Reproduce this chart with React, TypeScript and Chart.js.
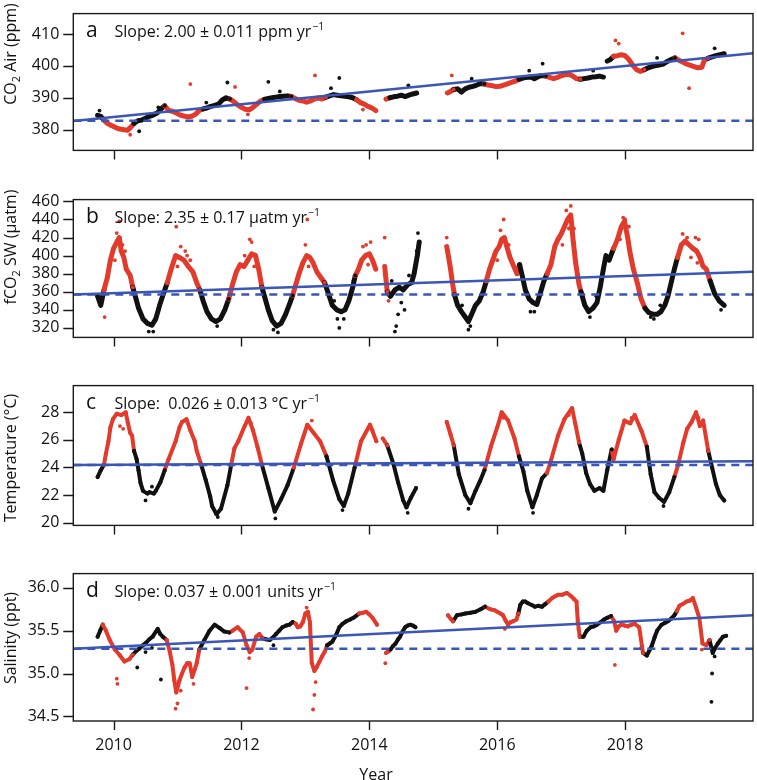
import React, { useEffect, useRef } from "react";
import { Chart, registerables } from "chart.js";
Chart.register(...registerables);

const RED = "#e33a2c";
const BLACK = "#111111";
const BLUE = "#3a56b6";
const FONT = "'Open Sans', sans-serif";

// ---------- shared axis data ----------
const xTicks = [2010, 2012, 2014, 2016, 2018];
const xMin = 2009.37;
const xMax = 2020.0;
// periods plotted in red (warm season)
const redSeasons: [number, number][] = [
  [2009.83, 2010.31], [2010.82, 2011.37], [2011.83, 2012.33], [2012.81, 2013.32],
  [2013.8, 2014.15], [2014.2, 2014.3], [2015.2, 2015.33], [2015.82, 2016.33],
  [2016.78, 2017.3], [2017.8, 2018.3], [2018.8, 2019.32],
];

// ---------- panel a: CO2 air (ppm) ----------
const co2Ticks = [380, 390, 400, 410];
const co2Air: [number, number | null][] = [
  [2009.75,384.5],[2009.8,384.2],[2009.85,383.0],[2009.9,382.0],[2009.95,381.5],[2010.0,381.0],[2010.05,380.5],[2010.1,380.2],[2010.16,380.0],[2010.22,379.8],[2010.27,380.8],[2010.32,382.0],[2010.38,382.8],[2010.44,383.0],[2010.5,383.6],[2010.56,384.2],[2010.62,384.6],[2010.68,385.2],[2010.74,386.5],[2010.8,387.5],
  [2010.86,386.0],[2010.92,385.8],[2010.98,385.2],[2011.04,384.6],[2011.1,384.3],[2011.16,384.0],[2011.22,384.2],[2011.28,384.8],[2011.34,386.0],[2011.4,386.5],[2011.46,386.8],[2011.52,387.3],[2011.58,387.6],[2011.64,388.0],[2011.7,389.3],[2011.76,390.0],
  [2011.82,389.6],[2011.88,388.8],[2011.94,387.8],[2012.0,387.0],[2012.06,386.4],[2012.12,386.2],[2012.18,387.0],[2012.24,388.0],[2012.3,389.0],[2012.36,389.5],[2012.42,389.8],[2012.48,390.0],[2012.54,390.2],[2012.6,390.4],[2012.66,390.5],[2012.72,390.6],[2012.78,390.4],
  [2012.84,389.8],[2012.9,389.2],[2012.96,389.0],[2013.02,388.6],[2013.08,389.0],[2013.14,389.6],[2013.2,390.0],[2013.26,389.6],[2013.32,390.2],[2013.38,390.6],[2013.44,391.0],[2013.5,390.8],[2013.56,390.6],[2013.62,390.5],[2013.68,390.3],[2013.74,390.0],
  [2013.8,389.4],[2013.86,388.5],[2013.92,388.0],[2013.98,387.3],[2014.04,386.8],[2014.1,386.0],[2014.18,null],
  [2014.26,389.6],[2014.32,390.0],[2014.38,390.3],[2014.44,390.5],[2014.5,390.8],[2014.56,390.4],[2014.62,390.8],[2014.68,391.2],[2014.74,391.5],[2014.95,null],
  [2015.22,391.5],[2015.27,392.0],[2015.32,392.6],[2015.38,392.8],[2015.44,391.8],[2015.5,392.8],[2015.56,393.3],[2015.62,393.6],[2015.68,394.0],[2015.74,394.5],[2015.8,394.3],[2015.86,394.0],[2015.92,393.8],[2015.98,393.5],[2016.04,393.6],[2016.1,394.0],[2016.16,394.4],[2016.22,394.8],[2016.28,395.2],
  [2016.34,395.8],[2016.4,396.2],[2016.46,396.4],[2016.52,396.5],[2016.58,396.0],[2016.64,396.6],[2016.7,397.0],[2016.76,396.8],[2016.82,396.4],[2016.88,396.0],[2016.94,396.4],[2017.0,396.9],[2017.06,397.3],[2017.12,397.4],[2017.18,396.8],[2017.24,396.0],
  [2017.3,395.8],[2017.36,396.0],[2017.42,396.2],[2017.48,396.5],[2017.54,396.6],[2017.6,396.8],[2017.66,396.5],[2017.69,null],
  [2017.72,401.5],[2017.77,402.0],[2017.82,403.0],[2017.88,403.2],[2017.94,403.5],[2018.0,403.2],[2018.06,402.0],[2018.12,400.2],[2018.18,398.8],[2018.24,398.3],[2018.3,398.8],[2018.36,399.4],[2018.42,399.8],[2018.48,400.1],[2018.54,400.3],[2018.6,400.6],[2018.66,401.4],[2018.72,402.0],[2018.78,402.5],
  [2018.84,401.8],[2018.9,401.2],[2018.96,400.6],[2019.02,400.2],[2019.08,399.8],[2019.14,399.4],[2019.2,399.6],[2019.24,401.8],[2019.3,402.4],[2019.36,402.8],[2019.42,403.2],[2019.48,403.5],[2019.55,403.8],
];
const co2Outliers: [number, number][] = [
  [2009.78,386.0],[2010.26,378.4],[2010.4,379.5],[2011.2,394.3],[2011.78,394.8],[2011.9,393.4],[2012.42,395.0],[2013.15,397.0],[2013.53,396.2],[2014.61,393.9],[2015.29,397.0],[2016.71,400.7],[2017.85,408.0],[2017.9,407.0],[2018.9,410.2],[2019.0,393.0],
  [2010.7,387.0],[2011.45,388.5],[2012.6,392.0],[2013.4,393.0],[2015.6,396.0],[2016.5,398.5],[2017.5,398.5],[2018.5,402.5],[2019.4,405.5],[2012.1,384.8],[2013.9,386.3],
];

// ---------- panel b: fCO2 seawater (uatm) ----------
const fco2Ticks = [320, 340, 360, 380, 400, 420, 440, 460];
const fco2Sw: [number, number | null][] = [
  [2009.75,355],[2009.8,345],[2009.85,362],[2009.9,375],[2009.95,395],[2010.0,408],[2010.05,415],[2010.09,420],[2010.12,405],[2010.16,398],[2010.2,385],[2010.26,378],[2010.3,365],
  [2010.34,355],[2010.39,342],[2010.46,330],[2010.53,325],[2010.6,323],[2010.66,330],[2010.72,345],[2010.78,358],
  [2010.84,370],[2010.9,385],[2010.97,400],[2011.03,398],[2011.1,395],[2011.17,388],[2011.24,382],[2011.3,370],[2011.35,362],
  [2011.4,350],[2011.46,338],[2011.53,330],[2011.6,327],[2011.67,330],[2011.74,340],[2011.8,352],
  [2011.86,368],[2011.92,382],[2011.98,390],[2012.04,388],[2012.1,395],[2012.16,402],[2012.22,400],[2012.27,385],[2012.32,365],
  [2012.36,355],[2012.42,340],[2012.48,328],[2012.55,322],[2012.62,325],[2012.69,335],[2012.76,348],[2012.8,356],
  [2012.85,368],[2012.9,380],[2012.96,392],[2013.02,400],[2013.07,398],[2013.12,392],[2013.18,382],[2013.25,375],[2013.3,370],
  [2013.35,360],[2013.42,345],[2013.49,340],[2013.56,338],[2013.62,340],[2013.68,350],[2013.74,365],[2013.78,378],
  [2013.83,385],[2013.88,395],[2013.94,400],[2014.0,402],[2014.05,395],[2014.1,385],[2014.17,null],
  [2014.24,388],[2014.28,360],[2014.33,355],[2014.4,362],[2014.47,365],[2014.53,362],[2014.6,368],[2014.66,370],[2014.7,380],[2014.75,400],[2014.78,415],[2014.95,null],
  [2015.21,410],[2015.24,398],[2015.27,385],[2015.3,370],[2015.33,357],[2015.38,345],[2015.44,338],[2015.5,332],[2015.55,327],[2015.6,335],[2015.66,345],[2015.72,350],[2015.78,360],
  [2015.83,372],[2015.88,385],[2015.93,395],[2015.98,405],[2016.03,410],[2016.07,418],[2016.11,420],[2016.15,410],[2016.2,398],[2016.26,388],[2016.31,380],
  [2016.35,390],[2016.39,378],[2016.44,362],[2016.5,352],[2016.56,348],[2016.62,346],[2016.68,360],[2016.73,372],
  [2016.78,380],[2016.84,390],[2016.9,410],[2016.95,418],[2017.0,424],[2017.05,432],[2017.1,440],[2017.15,445],[2017.19,415],[2017.23,390],[2017.28,368],
  [2017.31,360],[2017.37,345],[2017.43,338],[2017.5,342],[2017.56,348],[2017.61,365],[2017.66,385],[2017.7,400],
  [2017.75,395],[2017.82,408],[2017.88,418],[2017.94,432],[2017.99,438],[2018.04,420],[2018.08,402],[2018.13,385],[2018.19,370],
  [2018.25,352],[2018.31,342],[2018.37,337],[2018.44,335],[2018.5,335],[2018.56,338],[2018.62,345],[2018.67,355],[2018.72,370],
  [2018.77,385],[2018.82,398],[2018.88,412],[2018.94,416],[2019.0,412],[2019.06,408],[2019.12,405],[2019.17,398],[2019.22,388],
  [2019.27,385],[2019.33,372],[2019.4,358],[2019.47,350],[2019.55,345],
];
const fco2Outliers: [number, number][] = [
  [2009.86,332],[2010.09,438],[2010.05,425],[2010.14,412],[2010.98,432],[2011.05,410],[2011.12,405],[2011.2,395],[2012.13,418],[2012.16,415],[2012.05,400],[2013.03,440],[2013.0,412],[2013.9,410],[2013.95,412],[2014.02,415],[2014.24,420],[2015.21,420],[2016.1,440],[2016.05,428],[2017.15,455],[2017.12,430],[2017.08,450],[2017.97,442],[2018.0,440],[2018.9,424],[2018.97,420],[2019.1,420],[2019.15,418],
  [2010.55,316],[2010.62,316],[2011.62,322],[2012.57,315],[2012.5,318],[2013.53,320],[2013.5,330],[2014.4,316],[2014.42,322],[2014.45,335],[2014.3,350],[2014.76,425],[2014.74,405],[2015.55,318],[2015.58,322],[2016.52,338],[2017.45,332],[2018.45,330],[2018.4,332],[2019.5,340],[2013.75,372],[2014.55,340],
  [2010.02,395],[2010.18,405],[2011.0,388],[2011.15,400],[2012.2,388],[2013.05,388],[2013.98,390],[2016.0,395],[2016.18,412],[2017.02,412],[2017.2,430],[2017.92,418],[2018.06,432],[2019.03,398],[2019.13,392],
  [2014.35,372],[2014.5,348],[2014.62,378],[2013.45,350],[2013.6,330],[2015.45,345],[2016.58,338],[2017.55,355],[2018.55,345],
];

// ---------- panel c: temperature (°C) ----------
const tempTicks = [20, 22, 24, 26, 28];
const temperature: [number, number | null][] = [
  [2009.75,23.3],[2009.8,23.8],[2009.85,24.2],[2009.88,25.0],[2009.92,25.9],[2009.95,26.9],[2009.99,27.5],[2010.05,27.9],[2010.12,27.8],[2010.19,28.0],[2010.22,27.3],[2010.26,26.5],[2010.29,26.3],[2010.32,25.2],[2010.36,24.6],[2010.39,23.8],[2010.42,22.9],[2010.46,22.3],
  [2010.53,22.1],[2010.56,22.2],[2010.63,22.1],[2010.66,22.3],[2010.73,22.9],[2010.8,23.8],[2010.86,24.6],[2010.97,25.9],[2011.03,26.9],[2011.07,27.3],[2011.14,27.5],[2011.2,26.7],[2011.27,25.9],[2011.3,25.2],[2011.37,24.2],
  [2011.44,23.1],[2011.51,21.9],[2011.54,21.2],[2011.61,20.6],[2011.68,21.0],[2011.78,22.7],[2011.84,24.2],[2011.89,25.4],[2011.95,25.9],[2012.05,27.0],[2012.11,27.6],[2012.18,26.7],[2012.25,25.5],[2012.32,24.2],
  [2012.42,22.5],[2012.52,20.8],[2012.62,21.7],[2012.72,22.7],[2012.82,24.0],[2012.93,25.7],[2013.03,27.1],[2013.13,26.5],[2013.23,25.9],[2013.33,24.8],[2013.43,23.1],[2013.53,21.7],[2013.6,21.2],[2013.67,22.1],
  [2013.77,24.0],[2013.87,25.9],[2014.01,27.1],[2014.11,25.9],[2014.16,null],
  [2014.21,26.1],[2014.28,25.6],[2014.38,24.2],[2014.45,22.9],[2014.53,21.6],[2014.58,21.1],[2014.65,21.8],[2014.73,22.5],[2014.9,null],
  [2015.21,27.3],[2015.27,26.4],[2015.32,25.6],[2015.4,23.5],[2015.5,22.0],[2015.58,21.4],[2015.66,22.3],[2015.73,23.0],[2015.8,23.8],[2015.9,25.5],[2016.0,26.9],[2016.07,28.0],[2016.17,27.4],[2016.27,26.1],[2016.34,24.8],
  [2016.41,23.7],[2016.47,22.3],[2016.55,21.1],[2016.62,22.0],[2016.7,23.2],[2016.78,23.6],[2016.84,24.5],[2016.95,26.3],[2017.05,27.5],[2017.17,28.3],[2017.22,27.2],[2017.28,25.8],[2017.33,25.0],
  [2017.39,23.6],[2017.45,22.8],[2017.52,22.3],[2017.6,22.5],[2017.66,22.3],[2017.72,23.8],[2017.79,25.3],[2017.82,24.6],[2017.9,26.0],[2017.99,27.4],[2018.08,27.2],[2018.15,27.8],[2018.26,26.6],[2018.34,25.5],
  [2018.4,23.5],[2018.46,22.2],[2018.53,21.8],[2018.61,21.5],[2018.69,22.2],[2018.77,23.3],[2018.83,24.2],[2018.91,25.8],[2018.97,26.8],[2019.04,27.3],[2019.11,28.0],[2019.17,27.0],[2019.22,27.4],[2019.3,25.2],
  [2019.36,24.0],[2019.42,22.8],[2019.48,22.0],[2019.55,21.6],
];
const tempOutliers: [number, number][] = [
  [2010.1,27.0],[2010.15,26.8],[2011.63,20.4],[2012.53,20.3],[2013.58,20.9],[2014.6,20.7],[2015.55,21.0],[2016.56,20.7],[2018.6,21.2],
  [2010.5,21.6],[2010.6,22.6],[2012.15,27.2],[2013.1,27.4],[2014.05,26.7],[2016.1,27.6],[2017.12,27.8],[2018.1,27.6],[2019.15,27.6],
];

// ---------- panel d: salinity (ppt) ----------
const salTicks = [34.5, 35.0, 35.5, 36.0];
const salinity: [number, number | null][] = [
  [2009.75,35.43],[2009.79,35.5],[2009.83,35.57],[2009.88,35.5],[2009.94,35.39],[2010.02,35.28],[2010.1,35.21],[2010.17,35.14],[2010.25,35.17],[2010.3,35.22],[2010.35,35.26],[2010.4,35.29],[2010.46,35.33],[2010.51,35.36],[2010.56,35.4],[2010.61,35.43],[2010.69,35.52],[2010.73,35.46],[2010.77,35.43],
  [2010.83,35.39],[2010.88,35.25],[2010.92,35.1],[2010.95,34.92],[2010.98,34.78],[2011.03,34.92],[2011.07,35.0],[2011.11,35.07],[2011.15,35.12],[2011.19,35.12],[2011.23,34.96],[2011.27,35.05],[2011.3,35.12],[2011.34,35.28],
  [2011.42,35.39],[2011.5,35.5],[2011.58,35.57],[2011.66,35.53],[2011.73,35.49],[2011.81,35.48],[2011.86,35.5],[2011.94,35.54],[2012.02,35.48],[2012.08,35.33],[2012.13,35.25],[2012.17,35.28],[2012.23,35.43],[2012.28,35.46],
  [2012.33,35.41],[2012.38,35.4],[2012.44,35.39],[2012.49,35.42],[2012.54,35.46],[2012.59,35.5],[2012.64,35.54],[2012.7,35.56],[2012.75,35.57],[2012.8,35.6],[2012.85,35.58],[2012.88,35.54],[2012.92,35.55],[2012.96,35.6],
  [2013.0,35.7],[2013.04,35.72],[2013.07,35.6],[2013.1,35.12],[2013.14,35.03],[2013.18,35.08],[2013.22,35.14],[2013.26,35.2],[2013.3,35.25],[2013.34,35.33],[2013.38,35.35],[2013.42,35.37],[2013.48,35.45],[2013.53,35.54],
  [2013.58,35.58],[2013.64,35.61],[2013.7,35.63],[2013.75,35.65],[2013.84,35.7],[2013.9,35.71],[2013.95,35.72],[2014.0,35.69],[2014.05,35.65],[2014.12,35.57],[2014.19,null],
  [2014.26,35.24],[2014.3,35.26],[2014.33,35.28],[2014.37,35.32],[2014.41,35.35],[2014.45,35.4],[2014.48,35.43],[2014.52,35.49],[2014.56,35.54],[2014.6,35.56],[2014.64,35.57],[2014.68,35.56],[2014.72,35.54],[2014.95,null],
  [2015.23,35.68],[2015.27,35.64],[2015.31,35.61],[2015.37,35.68],[2015.44,35.69],[2015.5,35.7],[2015.58,35.71],[2015.66,35.72],[2015.74,35.75],[2015.81,35.78],[2015.89,35.75],[2015.95,35.74],[2016.0,35.72],[2016.05,35.7],
  [2016.09,35.68],[2016.13,35.62],[2016.17,35.57],[2016.21,35.6],[2016.25,35.61],[2016.3,35.63],[2016.33,35.7],[2016.36,35.8],[2016.4,35.84],[2016.44,35.84],[2016.48,35.82],[2016.54,35.8],[2016.59,35.78],[2016.64,35.79],
  [2016.7,35.78],[2016.75,35.81],[2016.8,35.84],[2016.86,35.88],[2016.9,35.9],[2016.95,35.92],[2017.02,35.92],[2017.09,35.94],[2017.16,35.9],[2017.2,35.87],[2017.24,35.84],[2017.26,35.61],[2017.29,35.43],
  [2017.35,35.43],[2017.4,35.5],[2017.46,35.54],[2017.51,35.55],[2017.56,35.57],[2017.62,35.6],[2017.67,35.63],[2017.72,35.65],[2017.78,35.67],[2017.83,35.61],[2017.86,35.5],[2017.9,35.55],[2017.94,35.57],[2017.99,35.56],
  [2018.04,35.55],[2018.1,35.57],[2018.15,35.58],[2018.22,35.54],[2018.28,35.24],[2018.34,35.21],[2018.38,35.27],[2018.42,35.33],[2018.46,35.42],[2018.5,35.5],[2018.57,35.57],[2018.62,35.59],[2018.67,35.61],[2018.72,35.64],
  [2018.77,35.68],[2018.81,35.73],[2018.85,35.79],[2018.9,35.81],[2018.96,35.84],[2019.01,35.85],[2019.06,35.88],[2019.11,35.77],[2019.16,35.65],[2019.21,35.35],[2019.27,35.33],[2019.32,35.39],[2019.37,35.24],[2019.41,35.3],
  [2019.45,35.35],[2019.49,35.39],[2019.53,35.43],[2019.58,35.44],
];
const salOutliers: [number, number][] = [
  [2010.06,34.88],[2010.05,34.94],[2010.37,35.07],[2010.74,34.93],[2010.97,34.59],[2011.0,34.65],[2012.08,34.83],[2013.12,34.58],[2013.14,34.75],[2013.16,34.9],[2014.25,35.12],[2017.84,35.1],[2019.36,35.0],[2019.35,34.67],[2019.4,35.2],
  [2010.5,35.25],[2010.6,35.3],[2011.05,34.8],[2011.25,34.88],[2012.12,35.18],[2012.5,35.33],[2013.02,35.77],[2016.12,35.52],[2017.27,35.52],[2018.25,35.3],[2019.2,35.28],
];

// ---------- trend / reference lines ----------
const trendA = [382.7, 404.0]; const refA = 382.8;
const trendB = [357.1, 382.1]; const refB = 357.1;
const trendC = [24.17, 24.45]; const refC = 24.17;
const trendD = [35.29, 35.68]; const refD = 35.29;

type Run = [string, boolean];
interface PanelDef {
  letter: string;
  slope: string;
  title: Run[];
  titleCenter: number;
  series: [number, number | null][];
  outliers: [number, number][];
  yTicks: number[];
  yMin: number;
  yMax: number;
  trend: number[];
  ref: number;
  plotTop: number;
  plotBottom: number;
  decimals: number;
  bottom: boolean;
  lineWidth: number;
}

const panels: PanelDef[] = [
  { letter: "a", slope: "Slope: 2.00 ± 0.011 ppm yr", title: [["CO", false], ["2", true], [" Air (ppm)", false]], titleCenter: 54,
    series: co2Air, outliers: co2Outliers, yTicks: co2Ticks, yMin: 373.5, yMax: 416.4, trend: trendA, ref: refA,
    plotTop: 2, plotBottom: 160, decimals: 0, bottom: false, lineWidth: 5 },
  { letter: "b", slope: "Slope: 2.35 ± 0.17 µatm yr", title: [["fCO", false], ["2", true], [" SW (µatm)", false]], titleCenter: 247,
    series: fco2Sw, outliers: fco2Outliers, yTicks: fco2Ticks, yMin: 309.5, yMax: 462, trend: trendB, ref: refB,
    plotTop: 188, plotBottom: 347, decimals: 0, bottom: false, lineWidth: 5 },
  { letter: "c", slope: "Slope:  0.026 ± 0.013 °C yr", title: [["Temperature (°C)", false]], titleCenter: 458,
    series: temperature, outliers: tempOutliers, yTicks: tempTicks, yMin: 19.79, yMax: 29.94, trend: trendC, ref: refC,
    plotTop: 374, plotBottom: 535, decimals: 0, bottom: false, lineWidth: 4 },
  { letter: "d", slope: "Slope: 0.037 ± 0.001 units yr", title: [["Salinity (ppt)", false]], titleCenter: 638,
    series: salinity, outliers: salOutliers, yTicks: salTicks, yMin: 34.446, yMax: 36.166, trend: trendD, ref: refD,
    plotTop: 562, plotBottom: 721, decimals: 1, bottom: true, lineWidth: 4 },
];

const PAD_T = 12;
const W = 757;
const LEFT = 73.3;

function isRed(x: number) {
  return redSeasons.some(([a, b]) => x >= a && x <= b);
}

function Panel({ p }: { p: PanelDef }) {
  const ref = useRef<HTMLCanvasElement>(null);
  const bottomSpace = p.bottom ? 780 - p.plotBottom : 14;
  const canvasTop = p.plotTop - PAD_T;
  const height = p.plotBottom - canvasTop + bottomSpace;

  useEffect(() => {
    const decor = {
      id: "decor" + p.letter,
      afterDatasetsDraw(chart: any) {
        const { ctx, chartArea: ca, scales } = chart;
        ctx.save();
        ctx.strokeStyle = "#1a1a1a";
        ctx.lineWidth = 1.4;
        ctx.strokeRect(ca.left, ca.top, ca.right - ca.left, ca.bottom - ca.top);
        ctx.beginPath();
        xTicks.forEach((v) => {
          const x = Math.round(scales.x.getPixelForValue(v)) + 0.5;
          ctx.moveTo(x, ca.bottom);
          ctx.lineTo(x, ca.bottom + 9);
        });
        p.yTicks.forEach((v) => {
          const y = Math.round(scales.y.getPixelForValue(v)) + 0.5;
          ctx.moveTo(ca.left - 10, y);
          ctx.lineTo(ca.left, y);
        });
        ctx.stroke();

        ctx.fillStyle = "#111";
        ctx.textBaseline = "alphabetic";
        ctx.textAlign = "left";
        ctx.font = `21px ${FONT}`;
        ctx.fillText(p.letter, 86, ca.top + 23);
        ctx.font = `16px ${FONT}`;
        ctx.fillText(p.slope, 114.5, ca.top + 23);
        const w = ctx.measureText(p.slope).width;
        ctx.font = `10.5px ${FONT}`;
        ctx.fillText("−1", 114.5 + w + 1, ca.top + 16);

        // rotated y-axis title with subscript support
        ctx.save();
        ctx.translate(15.5, p.titleCenter - canvasTop);
        ctx.rotate(-Math.PI / 2);
        let total = 0;
        p.title.forEach(([t, sub]) => {
          ctx.font = sub ? `11px ${FONT}` : `16px ${FONT}`;
          total += ctx.measureText(t).width;
        });
        let cx = -total / 2;
        p.title.forEach(([t, sub]) => {
          ctx.font = sub ? `11px ${FONT}` : `16px ${FONT}`;
          ctx.fillText(t, cx, sub ? 4 : 0);
          cx += ctx.measureText(t).width;
        });
        ctx.restore();

        if (p.bottom) {
          ctx.font = `16px ${FONT}`;
          ctx.textAlign = "center";
          ctx.fillText("Year", 376, 780 - canvasTop);
        }
        ctx.restore();
      },
    };

    const pointColor = (c: any) => {
      const raw = c.raw as any;
      return raw && isRed(raw.x) ? RED : BLACK;
    };

    const chart = new Chart(ref.current!, {
      type: "scatter",
      data: {
        datasets: [
          {
            data: [{ x: xMin, y: p.trend[0] }, { x: xMax, y: p.trend[1] }],
            showLine: true, borderColor: BLUE, borderWidth: 2.5, pointRadius: 0, order: 0,
          },
          {
            data: [{ x: xMin, y: p.ref }, { x: xMax, y: p.ref }],
            showLine: true, borderColor: BLUE, borderWidth: 2.5, borderDash: [8, 6], pointRadius: 0, order: 0,
          },
          {
            data: p.series.map(([x, y]) => ({ x, y })),
            showLine: true,
            spanGaps: false,
            borderWidth: p.lineWidth,
            borderColor: BLACK,
            borderJoinStyle: "round",
            borderCapStyle: "round",
            segment: {
              borderColor: (c: any) => (isRed((c.p0.parsed.x + c.p1.parsed.x) / 2) ? RED : BLACK),
            },
            pointRadius: 2,
            pointBorderWidth: 0,
            pointBackgroundColor: pointColor,
            order: 1,
          } as any,
          {
            data: p.outliers.map(([x, y]) => ({ x, y })),
            showLine: false,
            pointRadius: 1.9,
            pointBorderWidth: 0,
            pointBackgroundColor: pointColor,
            order: 2,
          } as any,
        ],
      },
      options: {
        animation: false,
        responsive: false,
        devicePixelRatio: 1,
        layout: { padding: { top: PAD_T, right: 2, left: 0, bottom: 0 } },
        plugins: { legend: { display: false }, tooltip: { enabled: false } },
        scales: {
          x: {
            type: "linear",
            min: xMin,
            max: xMax,
            afterBuildTicks: (s: any) => { s.ticks = xTicks.map((v) => ({ value: v })); },
            afterFit: (s: any) => { s.height = bottomSpace; },
            grid: { display: true, drawOnChartArea: false, drawTicks: false },
            border: { display: false },
            ticks: {
              display: p.bottom,
              autoSkip: false,
              maxRotation: 0,
              padding: 15,
              color: "#111",
              font: { family: FONT, size: 16 },
              callback: (v: any) => String(v),
            },
          },
          y: {
            type: "linear",
            min: p.yMin,
            max: p.yMax,
            afterBuildTicks: (s: any) => { s.ticks = p.yTicks.map((v) => ({ value: v })); },
            afterFit: (s: any) => { s.width = LEFT; },
            grid: { display: true, drawOnChartArea: false, drawTicks: false },
            border: { display: false },
            ticks: {
              padding: 14,
              color: "#111",
              font: { family: FONT, size: 16 },
              callback: (v: any) => Number(v).toFixed(p.decimals),
            },
          },
        },
      },
      plugins: [decor],
    } as any);
    return () => chart.destroy();
  }, []);

  return (
    <canvas
      ref={ref}
      width={W}
      height={height}
      style={{ position: "absolute", left: 0, top: canvasTop, width: W, height }}
    />
  );
}

export default function App() {
  return (
    <div style={{ position: "absolute", left: 0, top: 0, width: W, height: 780, background: "#fff", overflow: "hidden" }}>
      {panels.map((p) => (
        <Panel key={p.letter} p={p} />
      ))}
    </div>
  );
}
